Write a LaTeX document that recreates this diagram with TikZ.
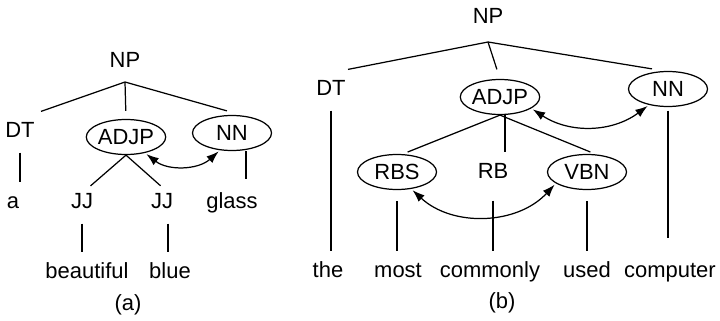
\documentclass[tikz,border=0pt]{standalone}
\usepackage{fontspec}
\setmainfont{Liberation Sans}
\usetikzlibrary{shapes.geometric, arrows.meta}

\begin{document}
\begin{tikzpicture}[
    x=0.02cm, y=-0.02cm,
    font=\fontsize{12.5}{15}\selectfont,
    word/.style={inner sep=0pt, text height=0.32cm, text depth=0.09cm},
    phrase/.style={ellipse, draw, line width=0.7pt, inner sep=0pt, minimum width=1.58cm, minimum height=0.7cm},
    branch/.style={line width=0.7pt},
    stem/.style={line width=0.7pt, shorten <=0.2cm, shorten >=0.2cm},
    link/.style={line width=0.7pt, <->, >={Latex[length=7pt,width=5pt]}, shorten <=1pt, shorten >=1pt}
]
    \useasboundingbox (0,0) rectangle (720,321);

    % tree (a)
    \node (npa) [word] at (125,62) {NP};
    \coordinate (roota) at (125,82);
    \node (dta) [word] at (20,132) {DT};
    \node (adjpa) [phrase] at (126,137) {ADJP};
    \node (nna) [phrase] at (232,133) {NN};
    \node (aa) [word] at (13,203) {a};
    \node (jja1) [word] at (82,203) {JJ};
    \node (jja2) [word] at (162,203) {JJ};
    \node (glassa) [word] at (232,203) {glass};
    \node (beautifula) [word] at (87,273) {beautiful};
    \node (bluea) [word] at (170,273) {blue};
    \node (capa) [word] at (128,305) {(a)};
    \coordinate (nnstema) at ([xshift=0.28cm]nna.south);

    \draw [branch] (roota) -- ([xshift=0.12cm,yshift=0.2cm]dta.north east);
    \draw [branch, shorten >=0.16cm] (roota) -- (adjpa.north);
    \draw [branch] (roota) -- ([xshift=-0.1cm,yshift=0.08cm]nna.north);
    \draw [branch, shorten >=0.2cm] (adjpa.south) -- ([xshift=0.02cm]jja1.north);
    \draw [branch, shorten >=0.2cm] (adjpa.south) -- ([xshift=0.12cm]jja2.north);
    \draw [stem] (dta.south) -- (dta.south |- aa.north);
    \draw [stem] (jja1.south) -- (jja1.south |- beautifula.north);
    \draw [stem] ([xshift=0.12cm]jja2.south) -- ([xshift=0.12cm]jja2.south |- bluea.north);
    \draw [stem, shorten <=0pt, shorten >=0.27cm] (nnstema) -- (nnstema |- glassa.north);
    \draw [link] (adjpa.-40) to[bend right=40] (nna.-125);

    % tree (b)
    \node (npb) [word] at (488,18) {NP};
    \coordinate (rootb) at (488,42);
    \node (dtb) [word] at (331,90) {DT};
    \node (adjpb) [phrase] at (500,97) {ADJP};
    \node (nnb) [phrase] at (668,89) {NN};
    \node (rbsb) [phrase] at (397,172) {RBS};
    \node (rbb) [word] at (493,173) {RB};
    \node (vbnb) [phrase] at (587,172) {VBN};
    \node (theb) [word] at (328,272) {the};
    \node (mostb) [word] at (398,272) {most};
    \node (commonlyb) [word] at (490,272) {commonly};
    \node (usedb) [word] at (587,272) {used};
    \node (computerb) [word] at (670,272) {computer};
    \node (capb) [word] at (502,303) {(b)};
    \coordinate (rbstemb) at ([xshift=0.1cm]adjpb.south);

    \draw [branch] (rootb) -- ([xshift=0.04cm,yshift=0.2cm]dtb.north east);
    \draw [branch, shorten >=0.2cm] (rootb) -- (adjpb.north);
    \draw [branch] (rootb) -- ([xshift=-0.32cm,yshift=0.04cm]nnb.north);
    \draw [branch, shorten >=0.1cm] (adjpb.south) -- ([xshift=0.12cm]rbsb.north);
    \draw [branch, shorten >=0.2cm] (rbstemb) -- (rbstemb |- rbb.north);
    \draw [branch, shorten >=0.1cm] (adjpb.south) -- ([xshift=0.16cm]vbnb.north);
    \draw [stem] (dtb.south) -- (dtb.south |- theb.north);
    \draw [stem, shorten <=0.22cm] (rbsb.south) -- (rbsb.south |- mostb.north);
    \draw [stem, shorten <=0.34cm] (rbb.south) -- (rbb.south |- commonlyb.north);
    \draw [stem, shorten <=0.22cm] (vbnb.south) -- (vbnb.south |- usedb.north);
    \draw [stem, shorten <=0.07cm, shorten >=0.47cm] (nnb.south) -- (nnb.south |- computerb.north);
    \draw [link] (adjpb.-20) to[bend right=35] (nnb.-140);
    \draw [link] (rbsb.-50) to[bend right=45] (vbnb.-160);
\end{tikzpicture}
\end{document}
